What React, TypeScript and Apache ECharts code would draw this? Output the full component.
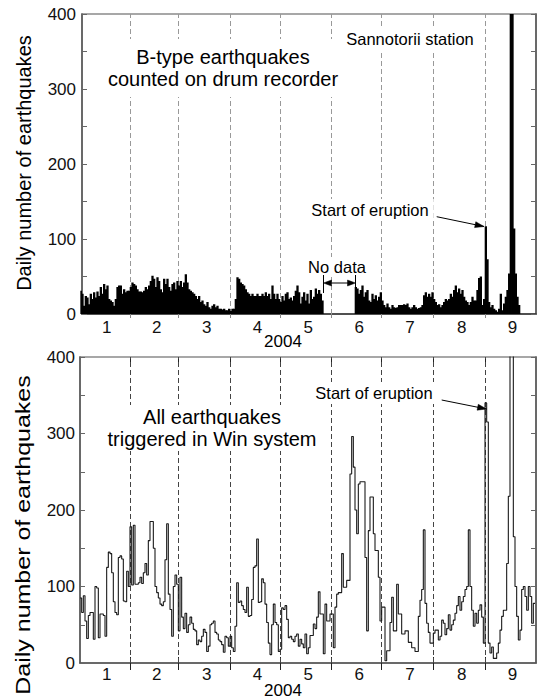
import React, { useEffect, useRef } from 'react';
import * as echarts from 'echarts';

// ---------- data ----------
const MONTH_DAYS = [31, 29, 31, 30, 31, 30, 31, 31, 30];
const MONTH_LABELS = ['1', '2', '3', '4', '5', '6', '7', '8', '9'];
const YEAR_LABEL = '2004';
const Y_LABEL = 'Daily number of earthquakes';

// B-type earthquakes, drum recorder (day index 0 = Jan 1); null = no data
const DRUM_FIRST_DAY = 1;
const drumCounts: (number | null)[] = [
  31, 27, 11, 24, 22, 13, 27, 20, 29, 22,
  30, 24, 36, 27, 40, 33, 38, 20, 18, 16,
  11, 20, 36, 38, 38, 27, 33, 29, 31, 31,
  36, 42, 40, 38, 33, 30, 30, 29, 31, 36,
  33, 38, 44, 51, 47, 36, 49, 44, 33, 29,
  47, 40, 47, 36, 31, 40, 42, 33, 44, 38,
  44, 36, 42, 53, 42, 33, 31, 29, 27, 24,
  20, 24, 16, 18, 13, 11, 16, 9, 7, 11,
  13, 9, 11, 7, 7, 6, 7, 5, 5, 7,
  4, 7, 7, 20, 49, 47, 42, 40, 38, 33,
  29, 27, 24, 27, 24, 24, 27, 24, 24, 27,
  24, 29, 24, 27, 20, 38, 27, 20, 27, 20,
  16, 24, 18, 27, 29, 20, 22, 18, 24, 31,
  38, 29, 14, 23, 29, 18, 27, 14, 32, 20,
  23, 34, 27, 32, 27, 18,
  null, null, null, null, null, null, null, null, null, null,
  null, null, null, null, null, null, null, null, null,
  36, 34, 27, 32, 38, 23, 29, 32, 18, 16,
  27, 20, 25, 18, 23, 29, 18, 12, 9, 14,
  9, 7, 12, 9, 8, 9, 12, 12, 12, 13,
  12, 14, 9, 7, 9, 12, 9, 7, 8, 9,
  12, 25, 29, 23, 27, 23, 29, 20, 16, 12,
  13, 9, 12, 16, 20, 18, 20, 27, 23, 32,
  38, 29, 34, 27, 32, 23, 18, 16, 12, 16,
  23, 18, 18, 32, 48, 50, 12, 20, 117, 73,
  16, 9, 12, 7, 5, 3, 7, 27, 5, 14,
  23, 32, 54, 620, 480, 114, 54, 23, 12,
];

// All earthquakes triggered in Win system
const WIN_FIRST_DAY = 1;
const winCounts: number[] = [
  85, 66, 88, 55, 32, 62, 66, 66, 31, 100,
  98, 33, 64, 64, 62, 35, 125, 145, 143, 118,
  80, 66, 63, 138, 140, 136, 81, 80, 120, 100,
  178, 102, 180, 103, 103, 105, 112, 104, 118, 130,
  115, 160, 185, 185, 150, 100, 92, 85, 77, 75,
  80, 135, 182, 90, 70, 35, 100, 115, 103, 42,
  112, 60, 45, 65, 40, 50, 60, 52, 44, 42,
  24, 30, 28, 35, 44, 40, 15, 22, 50, 52,
  55, 40, 38, 30, 28, 24, 14, 35, 33, 22,
  35, 20, 15, 48, 105, 79, 81, 75, 70, 66,
  99, 61, 62, 83, 125, 127, 162, 79, 80, 110,
  105, 77, 53, 26, 11, 50, 77, 53, 50, 15,
  18, 72, 70, 75, 57, 33, 35, 31, 28, 35,
  38, 22, 31, 25, 20, 38, 12, 20, 36, 36,
  51, 45, 60, 93, 64, 64, 12, 77, 55, 55,
  64, 64, 20, 73, 90, 92, 92, 143, 99, 99,
  108, 108, 247, 296, 256, 200, 169, 234, 237, 237,
  237, 138, 42, 173, 217, 217, 169, 147, 147, 112,
  55, 73, 73, 3, 16, 16, 53, 86, 42, 42,
  103, 64, 64, 38, 38, 42, 42, 27, 27, 20,
  20, 15, 15, 61, 82, 96, 174, 78, 52, 40,
  26, 26, 39, 43, 43, 30, 35, 56, 52, 37,
  45, 63, 43, 50, 56, 65, 75, 87, 69, 80,
  87, 96, 100, 174, 100, 69, 48, 65, 52, 69,
  76, 60, 26, 340, 315, 26, 13, 21, 6, 6,
  13, 26, 43, 61, 69, 69, 130, 218, 600, 600,
  165, 100, 61, 30, 43, 96, 100, 87, 69, 100,
  87, 52, 78,
];

// ---------- helpers ----------
const FONT = '"Liberation Sans", Arial, Helvetica, sans-serif';
const monthStarts: number[] = [];
MONTH_DAYS.reduce((acc, d) => { monthStarts.push(acc); return acc + d; }, 0);
const boundaries = monthStarts.slice(1);
const labelPos = monthStarts.map((s, i) => s + MONTH_DAYS[i] / 2 + 1.5);
const monthOf = (v: number) => {
  for (let i = 0; i < MONTH_DAYS.length; i++) {
    if (v >= monthStarts[i] && v < monthStarts[i] + MONTH_DAYS[i]) return MONTH_LABELS[i];
  }
  return '';
};

const drumData = drumCounts
  .map((v, i) => [DRUM_FIRST_DAY + i + 0.5, v])
  .filter((p) => p[1] !== null);
const winData = winCounts.map((v, i) => [WIN_FIRST_DAY + i, v]);
winData.push([WIN_FIRST_DAY + winCounts.length, winCounts[winCounts.length - 1]]);

function arrowHead(x1: number, y1: number, x2: number, y2: number, len = 9, half = 3) {
  const dx = x2 - x1, dy = y2 - y1;
  const L = Math.hypot(dx, dy);
  const ux = dx / L, uy = dy / L;
  const bx = x2 - ux * len, by = y2 - uy * len;
  return {
    type: 'polygon', z: 110,
    shape: { points: [[x2, y2], [bx - uy * half, by + ux * half], [bx + uy * half, by - ux * half]] },
    style: { fill: '#000', stroke: '#000', lineWidth: 0.5 },
  };
}
function arrow(x1: number, y1: number, x2: number, y2: number) {
  return [
    { type: 'line', z: 110, shape: { x1, y1, x2, y2 }, style: { stroke: '#000', lineWidth: 1 } },
    arrowHead(x1, y1, x2, y2),
  ];
}
function txt(text: string, x: number, y: number, size: number, extra: any = {}, bg = true, pad: any = [2, 3]) {
  return {
    type: 'text', x, y, z: 105, ...extra,
    style: {
      text, font: `${size}px ${FONT}`, fill: '#000',
      align: 'center', verticalAlign: 'middle', textAlign: 'center', textVerticalAlign: 'middle',
      lineHeight: Math.round(size * 1.1),
      backgroundColor: bg ? '#fff' : undefined, padding: bg ? pad : 0,
    },
  };
}

const yAxisBase = (gridIndex: number, position: string, showLabel: boolean, margin: number) => ({
  type: 'value', gridIndex, position, min: 0, max: 400, interval: 100,
  axisLine: { show: true, lineStyle: { color: '#555', width: 1.5 } },
  axisTick: { show: true, inside: true, length: 5, lineStyle: { color: '#666' } },
  minorTick: { show: true, splitNumber: 2, length: 5, lineStyle: { color: '#666' } },
  axisLabel: { show: showLabel, fontSize: 17, color: '#111', margin, fontFamily: FONT },
  splitLine: { show: false },
});

export default function App() {
  const ref = useRef<HTMLDivElement>(null);
  useEffect(() => {
    if (!ref.current) return;
    const chart = echarts.init(ref.current, null, { renderer: 'svg' });
    const option: any = {
      animation: false,
      backgroundColor: '#fff',
      textStyle: { fontFamily: FONT },
      grid: [
        { left: 82, top: 14, width: 454, height: 300, show: true, borderColor: '#8a8a8a', borderWidth: 1.5 },
        { left: 80, top: 357, width: 456, height: 306, show: true, borderColor: '#8a8a8a', borderWidth: 1.5 },
      ],
      xAxis: [
        {
          type: 'value', gridIndex: 0, min: 2.2, max: 274.6, position: 'bottom',
          axisLine: { lineStyle: { color: '#333', width: 1.5 } },
          axisTick: { show: true, customValues: boundaries, length: 4, lineStyle: { color: '#888' } },
          axisLabel: { customValues: labelPos, formatter: (v: number) => monthOf(v), fontSize: 17, color: '#111', margin: 5, fontFamily: FONT },
          splitLine: { show: false },
        },
        {
          type: 'value', gridIndex: 1, min: 1, max: 274.6, position: 'bottom',
          axisLine: { lineStyle: { color: '#555', width: 1.5 } },
          axisTick: { show: true, customValues: boundaries, length: 7, lineStyle: { color: '#222' } },
          axisLabel: { customValues: labelPos, formatter: (v: number) => monthOf(v), fontSize: 17, color: '#111', margin: 3, fontFamily: FONT },
          splitLine: { show: false },
        },
        {
          type: 'value', gridIndex: 1, min: 1, max: 274.6, position: 'top',
          axisLine: { show: false },
          axisTick: { show: true, customValues: boundaries, length: 6, lineStyle: { color: '#222' } },
          axisLabel: { show: false },
          splitLine: { show: false },
        },
        {
          type: 'value', gridIndex: 1, min: 1, max: 274.6, position: 'top',
          axisLine: { show: false },
          axisTick: { show: true, inside: true, customValues: boundaries, length: 6, lineStyle: { color: '#222' } },
          axisLabel: { show: false },
          splitLine: { show: false },
        },
      ],
      yAxis: [
        yAxisBase(0, 'left', true, 6),
        yAxisBase(0, 'right', false, 6),
        yAxisBase(1, 'left', true, 5),
        yAxisBase(1, 'right', false, 5),
      ],
      series: [
        {
          type: 'bar', xAxisIndex: 0, yAxisIndex: 0, data: drumData, barWidth: 2.3,
          itemStyle: { color: '#000' }, clip: true, silent: true, z: 3,
          markLine: {
            z: 1, silent: true, symbol: 'none', label: { show: false },
            lineStyle: { type: [5, 3], color: '#999', width: 1 },
            emphasis: { disabled: true },
            data: boundaries.map((b) => ({ xAxis: b })),
          },
        },
        {
          type: 'line', xAxisIndex: 1, yAxisIndex: 2, data: winData, step: 'end',
          symbol: 'none', showSymbol: false, clip: true, silent: true, z: 3,
          lineStyle: { color: '#1a1a1a', width: 1.1 },
          markLine: {
            z: 1, silent: true, symbol: 'none', label: { show: false },
            lineStyle: { type: [5, 3], color: '#444', width: 1 },
            emphasis: { disabled: true },
            data: boundaries.map((b) => ({ xAxis: b })),
          },
        },
      ],
      graphic: [
        txt('B-type earthquakes\ncounted on drum recorder', 223, 68, 20, {}, true, [7, 5]),
        txt('Sannotorii station', 410, 39, 16.5, {}, true, [3, 3]),
        txt('Start of eruption', 370, 210, 16.5, {}, true, [2, 5]),
        ...arrow(436.7, 216.7, 484, 226.5),
        txt('No data', 337, 267, 16.5, {}, true, [1, 2]),
        { type: 'line', z: 110, shape: { x1: 323.5, y1: 275, x2: 323.5, y2: 293 }, style: { stroke: '#000', lineWidth: 1 } },
        { type: 'line', z: 110, shape: { x1: 355.5, y1: 275, x2: 355.5, y2: 293 }, style: { stroke: '#000', lineWidth: 1 } },
        { type: 'line', z: 110, shape: { x1: 330, y1: 283, x2: 349, y2: 283 }, style: { stroke: '#000', lineWidth: 1 } },
        arrowHead(340, 283, 323.5, 283, 8, 3),
        arrowHead(340, 283, 355.5, 283, 8, 3),
        txt(YEAR_LABEL, 283, 341, 17, {}, false),
        txt(Y_LABEL, 23.5, 163, 20, { rotation: Math.PI / 2 }, false),

        txt('All earthquakes\ntriggered in Win system', 212, 428, 20, {}, true, [1, 4]),
        txt('Start of eruption', 374, 393, 16.5, {}, true, [2, 2]),
        ...arrow(441.7, 400, 486.5, 409),
        txt(YEAR_LABEL, 283, 690, 17, {}, false),
        txt(Y_LABEL, 23.5, 535, 20, { rotation: Math.PI / 2, scaleX: 1.25 }, false),
      ],
    };
    chart.setOption(option);
    return () => chart.dispose();
  }, []);
  return (
    <div
      ref={ref}
      style={{ position: 'fixed', left: 0, top: 0, width: 537, height: 700, background: '#fff' }}
    />
  );
}
